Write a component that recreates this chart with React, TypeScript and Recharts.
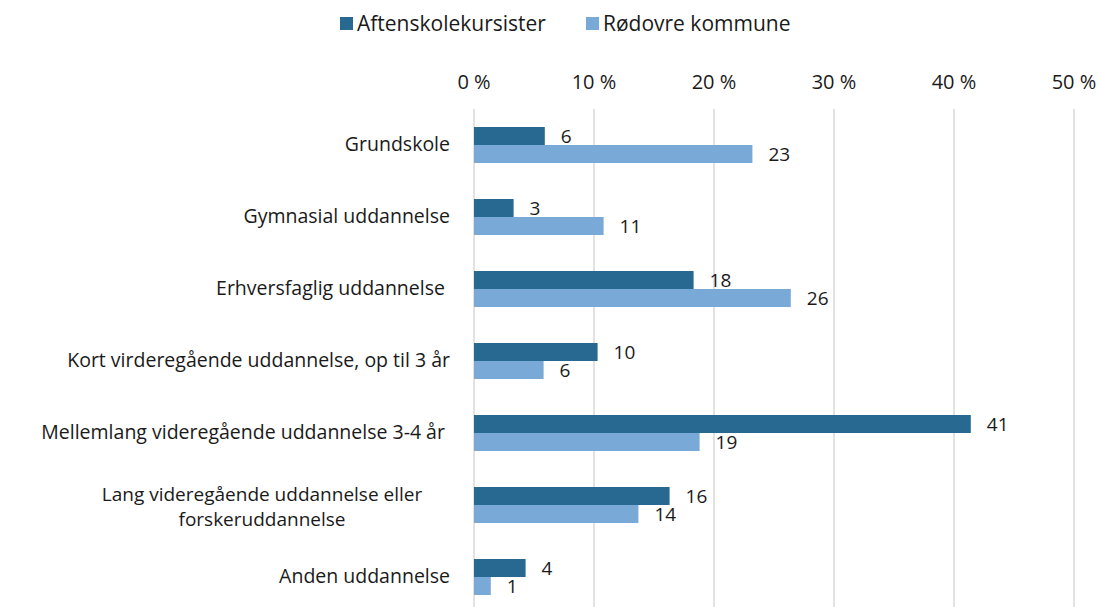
import React from 'react';
import { BarChart, Bar, XAxis, YAxis, CartesianGrid, LabelList } from 'recharts';

const categories = [
  'Grundskole',
  'Gymnasial uddannelse',
  'Erhversfaglig uddannelse ',
  'Kort virderegående uddannelse, op til 3 år',
  'Mellemlang videregående uddannelse 3-4 år ',
  'Lang videregående uddannelse eller\nforskeruddannelse',
  'Anden uddannelse',
];
const aftenskole = [5.9, 3.3, 18.3, 10.3, 41.4, 16.3, 4.3];
const roedovre = [23.2, 10.8, 26.4, 5.8, 18.8, 13.7, 1.4];
const xTicks = [0, 10, 20, 30, 40, 50];

const seriesNames = ['Aftenskolekursister', 'Rødovre kommune'];
const colors = ['#286991', '#78A9D7'];

const data = categories.map((name, i) => ({
  name,
  aftenskole: aftenskole[i],
  roedovre: roedovre[i],
}));

const FONT = '"Open Sans", sans-serif';
const CAT_SIZE = 19.5;
const TICK_SIZE = 20;
const LEGEND_SIZE = 21;
const LABEL_SIZE = 19;

const CategoryTick = (props: any) => {
  const { x, y, payload } = props;
  const lines = String(payload.value).split('\n');
  if (lines.length === 1) {
    return (
      <text x={x - 16} y={y} dy={6} textAnchor="end" fontSize={CAT_SIZE} fill="#1a1a1a" fontFamily={FONT} style={{ whiteSpace: 'pre' }}>
        {lines[0]}
      </text>
    );
  }
  // two lines, each centred on the same point
  return (
    <g>
      {lines.map((l, i) => (
        <text
          key={i}
          x={x - 204}
          y={y + (i === 0 ? -4 : 21)}
          textAnchor="middle"
          fontSize={CAT_SIZE - 0.5}
          fill="#1a1a1a"
          fontFamily={FONT}
        >
          {l}
        </text>
      ))}
    </g>
  );
};

const App = () => {
  return (
    <div style={{ position: 'absolute', left: 0, top: 0, width: 1099, height: 607, overflow: 'hidden', background: '#fff', fontFamily: FONT }}>
      <div
        style={{
          position: 'absolute',
          top: 9,
          left: 340,
          display: 'flex',
          fontSize: LEGEND_SIZE,
          color: '#1a1a1a',
          gap: 40,
        }}
      >
        {seriesNames.map((n, i) => (
          <div key={n} style={{ display: 'flex', alignItems: 'center' }}>
            <span style={{ display: 'inline-block', width: 13, height: 13, background: colors[i], marginRight: 4 }} />
            <span>{n}</span>
          </div>
        ))}
      </div>
      <BarChart
        width={1099}
        height={613}
        data={data}
        layout="vertical"
        margin={{ top: 79, right: 25, left: 0, bottom: 0 }}
        barGap={0}
      >
        <CartesianGrid horizontal={false} stroke="#d9d9d9" strokeWidth={1.5} />
        <XAxis
          type="number"
          orientation="top"
          domain={[0, 50]}
          ticks={xTicks}
          tickFormatter={(v) => `${v} %`}
          axisLine={false}
          tickLine={false}
          height={30}
          tickMargin={14}
          tick={{ fontSize: TICK_SIZE, fill: '#1a1a1a', fontFamily: FONT }}
        />
        <YAxis
          type="category"
          dataKey="name"
          width={474}
          axisLine={false}
          tickLine={false}
          tick={<CategoryTick />}
        />
        <Bar dataKey="aftenskole" fill={colors[0]} barSize={18} isAnimationActive={false}>
          <LabelList
            dataKey="aftenskole"
            position="right"
            offset={16}
            formatter={(v: any) => Math.round(v)}
            style={{ fontSize: LABEL_SIZE, fill: '#1a1a1a', fontFamily: FONT }}
          />
        </Bar>
        <Bar dataKey="roedovre" fill={colors[1]} barSize={18} isAnimationActive={false}>
          <LabelList
            dataKey="roedovre"
            position="right"
            offset={16}
            formatter={(v: any) => Math.round(v)}
            style={{ fontSize: LABEL_SIZE, fill: '#1a1a1a', fontFamily: FONT }}
          />
        </Bar>
      </BarChart>
    </div>
  );
};

export default App;
